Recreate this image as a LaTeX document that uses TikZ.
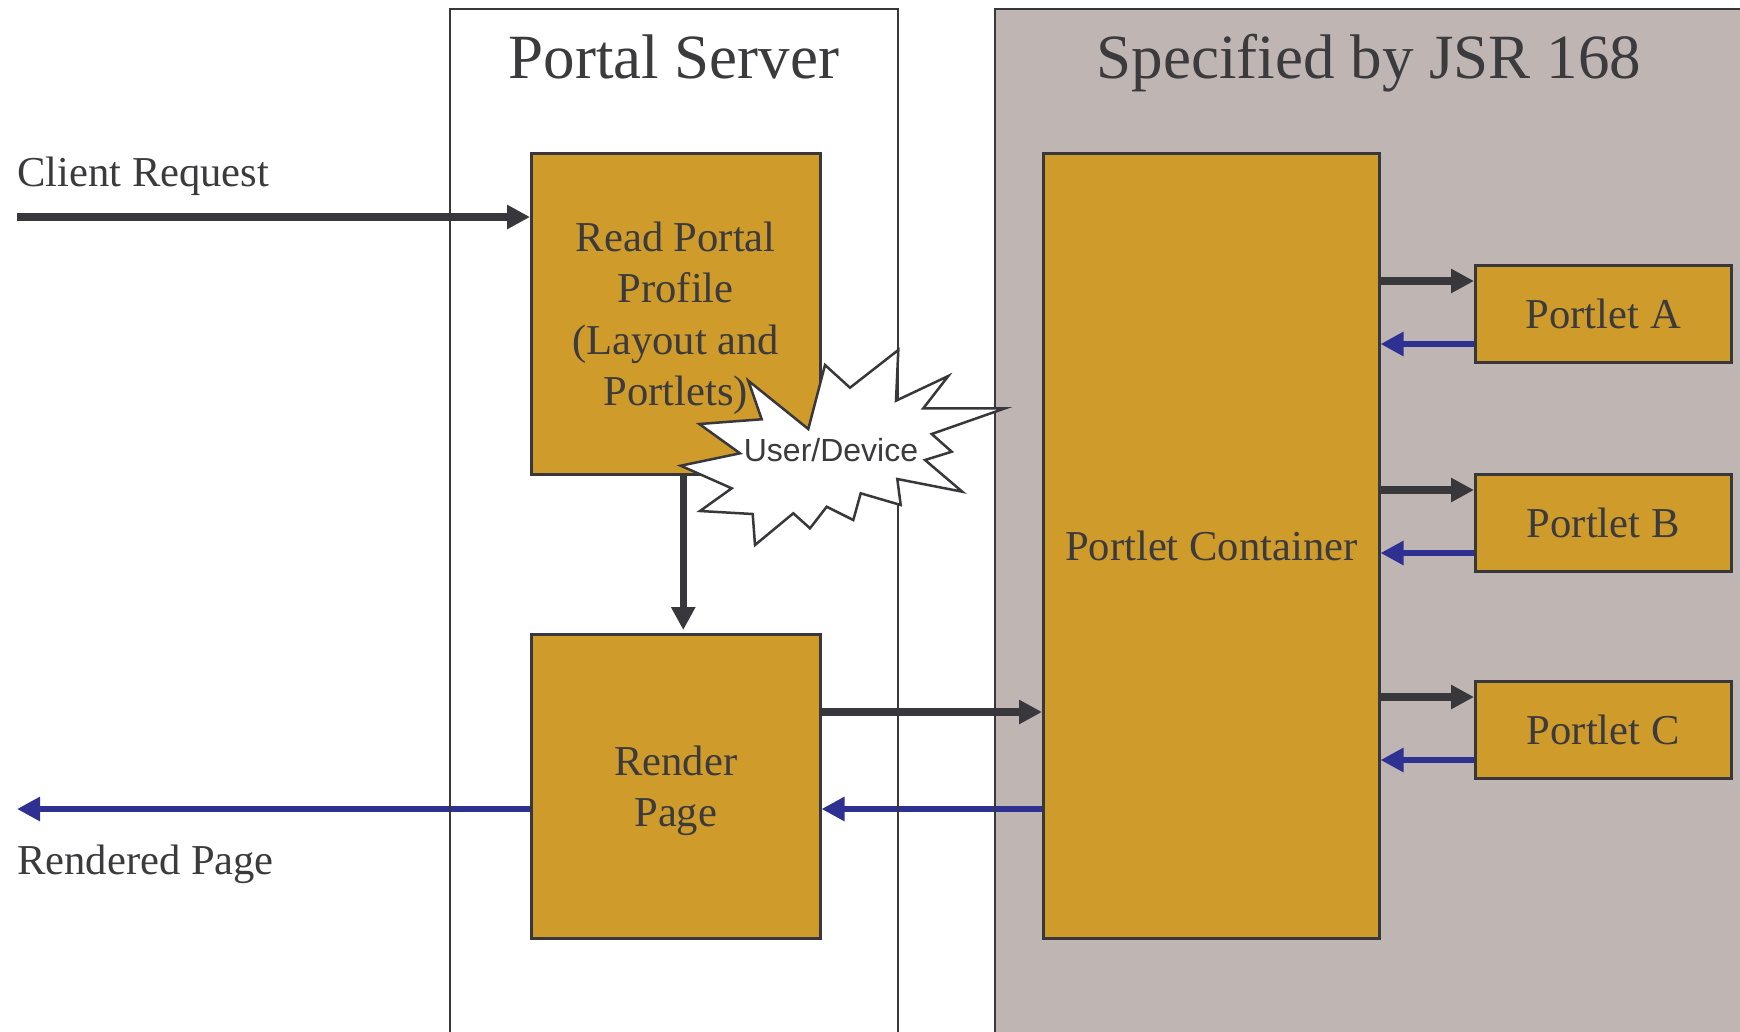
\documentclass[tikz,border=0pt]{standalone}
\usepackage{fontspec}
\setmainfont{Liberation Serif}
\newfontfamily\burstfont{Liberation Sans}
\usetikzlibrary{arrows.meta}
\definecolor{gold}{HTML}{CF9B2B}
\definecolor{specgray}{HTML}{BFB5B3}
\definecolor{ink}{HTML}{38373B}
\definecolor{txt}{HTML}{3B3A3D}
\definecolor{retblue}{HTML}{2E3192}
\begin{document}
\begin{tikzpicture}[x=1pt,y=-1pt,
  frame/.style={draw=ink, line width=2pt},
  block/.style={draw=ink, line width=2.5pt, fill=gold, inner sep=0pt,
    anchor=north west, align=center, text=txt, text depth=0pt,
    font=\fontsize{42.6}{51.5}\selectfont},
  fwd/.style={draw=ink, line width=7.5pt, -{Triangle[length=23pt,width=23pt]}},
  back/.style={draw=retblue, line width=6.5pt, -{Triangle[length=23pt,width=23pt]}},
  heading/.style={font=\fontsize{63}{75}\selectfont, text=txt, anchor=base, inner sep=0pt},
  lbl/.style={font=\fontsize{42.6}{51}\selectfont, text=txt, anchor=base west, inner sep=0pt},
]
% canvas
\fill[white] (0,0) rectangle (1740,1031);
\useasboundingbox (0,0) rectangle (1740,1031);
\fill[specgray] (995,9) rectangle (1745,1040);

% blocks
\node[block, minimum width=289pt, minimum height=321pt] (read) at (530,152)
  {Read Portal\\Profile\\(Layout and\\Portlets)};
\node[block, minimum width=289pt, minimum height=304pt] (render) at (530,633)
  {Render\\Page};
\node[block, minimum width=336pt, minimum height=785pt] (cont) at (1042,152)
  {Portlet Container};
\node[block, minimum width=256pt, minimum height=97pt] (pa) at (1474,264) {Portlet A};
\node[block, minimum width=256pt, minimum height=97pt] (pb) at (1474,473) {Portlet B};
\node[block, minimum width=256pt, minimum height=97pt] (pc) at (1474,680) {Portlet C};

% request / response flow
\coordinate (req) at (17,217);
\draw[fwd] (req) -- (req -| read.west);
\coordinate (resp) at (17,809);
\draw[back] (resp -| render.west) -- (resp);

\coordinate (dn) at ([xshift=7.5pt]read.south);
\draw[fwd, shorten >=3pt] (dn) -- (dn |- render.north);

\coordinate (rc) at ([yshift=-79pt]render.north east);
\draw[fwd] (rc) -- (rc -| cont.west);
\coordinate (cr) at ([yshift=-176pt]render.north east);
\draw[back] (cr -| cont.west) -- (cr);

\foreach \p in {pa,pb,pc}{
  \coordinate (\p-in) at ([yshift=-17pt]\p.north west);
  \coordinate (\p-out) at ([yshift=-80pt]\p.north west);
  \draw[fwd] (cont.east |- \p-in) -- (\p-in);
  \draw[back] (\p-out) -- (cont.east |- \p-out);
}

% region frames
\draw[frame] (450,9) rectangle (898,1040);
\draw[frame] (995,9) rectangle (1745,1040);

% starburst callout
\draw[draw=ink, line width=2.5pt, fill=white, line join=miter]
  (748.3,380.7) -- (761.7,419.3) -- (699.3,424) -- (740,453.3) -- (680.7,465.7)
  -- (731.7,488.3) -- (700,511) -- (752.7,514) -- (755,545) -- (793.3,513.3)
  -- (810,528.3) -- (826.7,506.7) -- (853.3,520) -- (860.7,493.3) -- (900.7,505)
  -- (897.3,479) -- (962.3,491.7) -- (925,460) -- (951.7,451.7) -- (931.7,434)
  -- (1005,408.3) -- (923.3,408.3) -- (948.3,376) -- (896,400.7) -- (898.3,350)
  -- (850,387.7) -- (825,365) -- (808.3,429) -- cycle;
\node[font=\burstfont\fontsize{32}{38}\selectfont, text=txt, anchor=base, inner sep=0pt]
  (burst) at (831,461) {User/Device};

% headings and labels
\node[heading] (ps) at (674,78) {Portal Server};
\node[heading] (jsr) at (1369,78) {Specified by JSR 168};
\node[lbl] (creq) at (17,186) {Client Request};
\node[lbl] (rpage) at (17,874) {Rendered Page};
\end{tikzpicture}
\end{document}
